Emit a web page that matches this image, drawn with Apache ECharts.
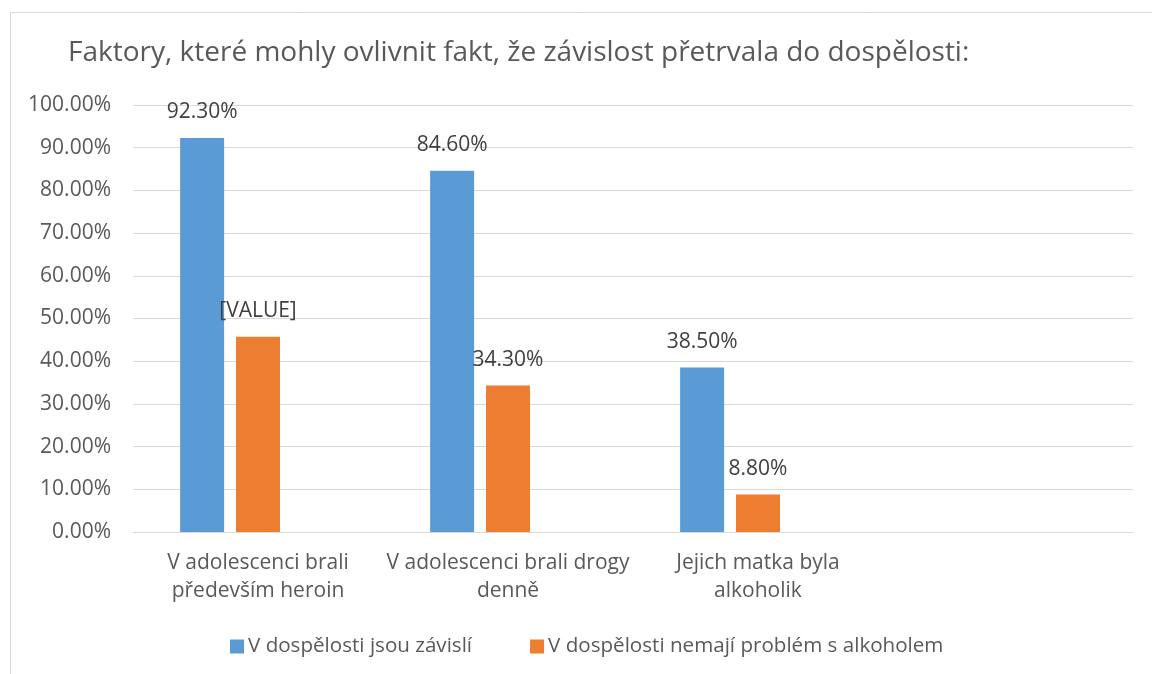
<!DOCTYPE html>
<html>
<head>
<meta charset="utf-8">
<script src="https://cdn.jsdelivr.net/npm/echarts@6/dist/echarts.min.js"></script>
<style>
  html, body { margin: 0; padding: 0; background: #fff; }
  #chart { width: 1152px; height: 674px; }
</style>
</head>
<body>
<div id="chart"></div>
<script>
  // data
  var categories = ['V adolescenci brali\npředevším heroin', 'V adolescenci brali drogy\ndenně', 'Jejich matka byla\nalkoholik', ''];
  var seriesNames = ['V dospělosti jsou závislí', 'V dospělosti nemají problém s alkoholem'];
  var dependent = [92.3, 84.6, 38.5, null];
  var noAlcohol = [45.7, 34.3, 8.8, null];
  var emptySeries = [null, null, null, null]; // third (empty) series in the original sheet
  var valueLabels = [null, ['[VALUE]', '34.30%', '8.80%', '']];
  var yTicks = [0, 10, 20, 30, 40, 50, 60, 70, 80, 90, 100];

  var font = 'Open Sans';
  var chart = echarts.init(document.getElementById('chart'));

  function labelFor(idx) {
    return {
      show: true,
      position: 'top',
      distance: 15,
      color: '#404040',
      fontFamily: font,
      fontSize: 21,
      formatter: function (p) {
        if (p.value == null) return '';
        if (valueLabels[idx]) return valueLabels[idx][p.dataIndex];
        return p.value.toFixed(2) + '%';
      }
    };
  }

  chart.setOption({
    animation: false,
    textStyle: { fontFamily: font },
    graphic: [{
      type: 'rect',
      shape: { x: 10.5, y: 12.5, width: 1200, height: 700 },
      style: { fill: 'none', stroke: '#d9d9d9', lineWidth: 1 },
      silent: true
    }],
    title: {
      text: 'Faktory, které mohly ovlivnit fakt, že závislost přetrvala do dospělosti:',
      left: 63,
      top: 34,
      textStyle: { color: '#595959', fontFamily: font, fontSize: 28, fontWeight: 'normal' }
    },
    legend: {
      data: seriesNames,
      left: 225,
      top: 631,
      itemWidth: 14,
      itemHeight: 14,
      itemGap: 58,
      icon: 'rect',
      textStyle: { color: '#595959', fontFamily: font, fontSize: 20.6, padding: [0, 0, 0, -1] }
    },
    grid: { left: 133, right: 19, top: 105, bottom: 142, containLabel: false },
    xAxis: {
      type: 'category',
      data: categories,
      axisLine: { show: true, lineStyle: { color: '#d9d9d9' } },
      axisTick: { show: false },
      axisLabel: { color: '#595959', fontFamily: font, fontSize: 21, lineHeight: 28, margin: 17, interval: 0 }
    },
    yAxis: {
      type: 'value',
      min: yTicks[0],
      max: yTicks[yTicks.length - 1],
      interval: 10,
      axisLine: { show: false },
      axisTick: { show: false },
      splitLine: { lineStyle: { color: '#d9d9d9' } },
      axisLabel: {
        color: '#595959', fontFamily: font, fontSize: 21, margin: 22,
        formatter: function (v) { return v.toFixed(2) + '%'; }
      }
    },
    series: [{
      name: seriesNames[0],
      type: 'bar',
      data: dependent,
      barWidth: 44,
      barGap: '27%',
      itemStyle: { color: '#5b9bd5' },
      label: labelFor(0)
    }, {
      name: seriesNames[1],
      type: 'bar',
      data: noAlcohol,
      barWidth: 44,
      barGap: '27%',
      itemStyle: { color: '#ed7d31' },
      label: labelFor(1)
    }, {
      name: 'empty',
      type: 'bar',
      data: emptySeries,
      barWidth: 44,
      barGap: '27%',
      itemStyle: { color: '#a5a5a5' }
    }]
  });
</script>
</body>
</html>
